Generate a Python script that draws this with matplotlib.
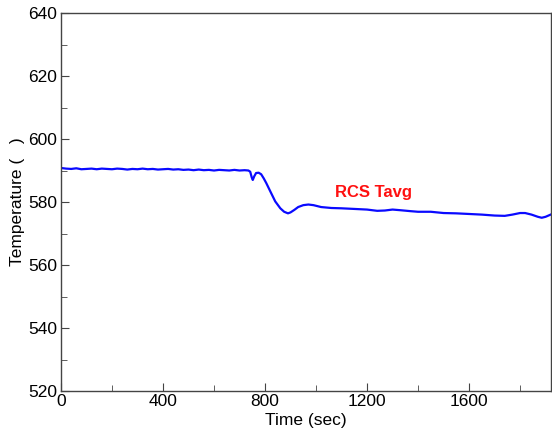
import matplotlib
matplotlib.use('Agg')
import matplotlib.pyplot as plt
from matplotlib.ticker import MultipleLocator

plt.rcParams['font.family'] = ['Liberation Sans', 'DejaVu Sans']

# RCS average temperature during the transient
time_sec = [0, 20, 40, 60, 80, 100, 120, 140, 160, 180, 200, 220, 240, 260, 280,
            300, 320, 340, 360, 380, 400, 420, 440, 460, 480, 500, 520, 540, 560,
            580, 600, 620, 640, 660, 680, 700, 720, 735, 742, 748, 752, 758, 765,
            775, 785, 795, 805, 820, 840, 860, 875, 890, 900, 915, 930, 950, 970,
            990, 1020, 1060, 1100, 1150, 1200, 1240, 1270, 1300, 1330, 1370, 1400,
            1450, 1500, 1550, 1600, 1650, 1700, 1740, 1770, 1800, 1820, 1845, 1870,
            1885, 1900, 1920]
tavg = [590.8, 590.6, 590.5, 590.7, 590.4, 590.5, 590.6, 590.4, 590.6, 590.5,
        590.4, 590.6, 590.5, 590.3, 590.5, 590.4, 590.6, 590.4, 590.5, 590.3,
        590.4, 590.5, 590.3, 590.4, 590.2, 590.3, 590.1, 590.3, 590.1, 590.2,
        590.0, 590.2, 590.1, 590.0, 590.2, 590.0, 590.1, 590.0, 589.6, 587.8,
        587.0, 588.2, 589.2, 589.3, 588.8, 587.5, 586.0, 583.5, 580.2, 578.0,
        576.9, 576.4, 576.7, 577.5, 578.4, 579.0, 579.2, 579.0, 578.4, 578.1,
        578.0, 577.8, 577.6, 577.2, 577.3, 577.6, 577.4, 577.1, 576.9, 576.9,
        576.5, 576.4, 576.2, 576.0, 575.7, 575.6, 576.0, 576.5, 576.5, 576.0,
        575.3, 575.0, 575.3, 576.0]

fig = plt.figure(figsize=(5.52, 4.38), dpi=100)
ax = fig.add_axes([0.1105, 0.1073, 0.8875, 0.863])

ax.plot(time_sec, tavg, color='#0a0aff', linewidth=1.6)
ax.text(1075, 582.9, 'RCS Tavg', color='#ff1010', fontsize=12,
        fontweight='bold', va='center', ha='left')

ax.set_xlim(0, 1921)
ax.set_ylim(520, 640)
ax.xaxis.set_major_locator(MultipleLocator(400))
ax.xaxis.set_minor_locator(MultipleLocator(200))
ax.yaxis.set_major_locator(MultipleLocator(20))
ax.yaxis.set_minor_locator(MultipleLocator(10))
ax.tick_params(which='both', direction='in', labelsize=12.5,
               top=False, right=False, color='#444444')
ax.tick_params(axis='x', pad=2)
ax.tick_params(axis='y', pad=3)
ax.tick_params(which='major', length=6)
ax.tick_params(which='minor', length=4)
for side in ['left', 'bottom', 'top', 'right']:
    ax.spines[side].set_color('#444444')
    ax.spines[side].set_linewidth(1.0)

ax.set_xlabel('Time (sec)', fontsize=12.5, labelpad=3)
ax.set_ylabel('Temperature (   )', fontsize=12.5, labelpad=2)

fig.savefig('out.png', dpi=100)
